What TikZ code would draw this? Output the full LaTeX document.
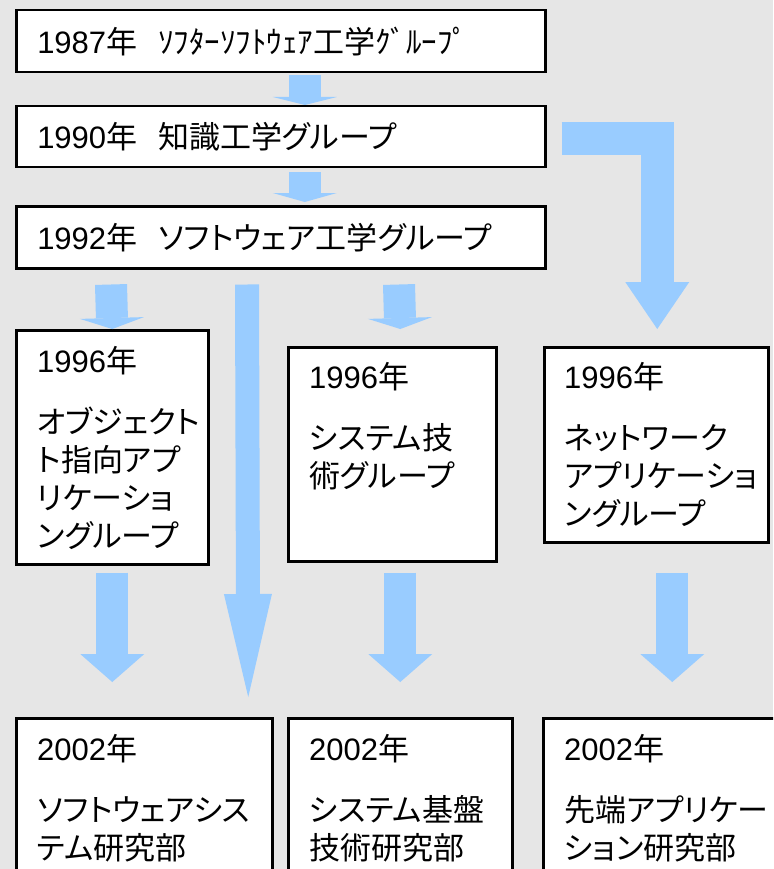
\documentclass[tikz,border=0pt]{standalone}
\usepackage{fontspec}
\setmainfont{Noto Sans CJK JP}[RawFeature=+palt]
\newfontfamily\fullfont{Noto Sans CJK JP}
\newfontfamily\latinfont{Liberation Sans}
\usepackage{tikz}
\usetikzlibrary{calc}
\usetikzlibrary{arrows.meta}
\definecolor{backdrop}{HTML}{E6E6E6}
\definecolor{arrowblue}{HTML}{99CCFF}
\newcommand{\bigtext}{\fontsize{31}{38}\selectfont}
\newcommand{\yr}[1]{{\latinfont #1}年}
\tikzset{
  x = 1pt, y = -1pt,
  box/.style = {draw, line width=2.5pt, fill=white, anchor=north west, inner sep=0pt},
  headbox/.style = {box, minimum width=529pt, minimum height=61pt,
    text width=487pt, inner xsep=21pt, align=left, font=\bigtext},
  boxtext/.style = {anchor=north west, inner sep=0pt, align=left, font=\bigtext},
  flow/.style = {draw=arrowblue, line width=32pt,
    -{Triangle[width=64pt,length=#1,line width=0pt]}}
}

\begin{document}
\begin{tikzpicture}
  %%% background
  \useasboundingbox (0,0) rectangle (773,869);
  \clip (0,0) rectangle (773,869);
  \fill[backdrop] (0,0) rectangle (773,869);
  %%% early groups
  \node[headbox, minimum height=62pt, font=\bigtext\fullfont] (grp87) at (15,9) {\yr{1987}\kern21pt ｿﾌﾀｰｿﾌﾄｳｪｱ工学ｸﾞﾙｰﾌﾟ};
  \node[headbox] (grp90) at (15,105) {\yr{1990}\kern21pt 知識工学グループ};
  \node[headbox, minimum height=62pt] (grp92) at (15,205) {\yr{1992}\kern21pt ソフトウェア工学グループ};
  %
  \draw[flow=8pt] ($(grp87.south)+(24,2)$) -- ($(grp90.north)+(24,0)$);
  \draw[flow=9pt] ($(grp90.south)+(24,4)$) -- ($(grp92.north)+(24,-3)$);
  %%% 1996 groups
  \node[box, minimum width=192pt, minimum height=234pt] (grp96a) at (15,329) {};
  \node[box, minimum width=208pt, minimum height=214pt] (grp96b) at (287,346) {};
  \node[box, minimum width=224pt, minimum height=195pt] (grp96c) at (543,346) {};
  \node[boxtext] (lab96a) at (37,346)
    {\yr{1996}\\[23pt]オブジェクト\\ト指向アプ\\リケーショ\\ングループ};
  \node[boxtext] (lab96b) at (309,362)
    {\yr{1996}\\[23pt]システム技\\術グループ};
  \node[boxtext] (lab96c) at (564,362)
    {\yr{1996}\\[23pt]ネットワーク\\アプリケーショ\\ングループ};
  %
  \draw[flow=11pt] ($(grp92.south west)+(96,15)$) -- (grp96a.north);
  \draw[flow=11pt] ($(grp92.south west)+(384,15)$) -- ($(grp96b.north)+(8,-17)$);
  \draw[flow=47pt, line width=33pt] ($(grp90.east)+(15,2)$) -| ($(grp96c.north)+(1,-17)$);
  %%% 2002 departments
  \node[box, minimum width=256pt, minimum height=200pt] (dep02a) at (15,717) {};
  \node[box, minimum width=224pt, minimum height=200pt] (dep02b) at (287,717) {};
  \node[box, minimum width=260pt, minimum height=200pt] (dep02c) at (542,717) {};
  \node[boxtext] (lab02a) at (37,734)
    {\yr{2002}\\[23pt]ソフトウェアシス\\テム研究部};
  \node[boxtext] (lab02b) at (309,734)
    {\yr{2002}\\[23pt]システム基盤\\技術研究部};
  \node[boxtext] (lab02c) at (564,734)
    {\yr{2002}\\[23pt]先端アプリケー\\ション研究部};
  %
  \draw[draw=arrowblue, line width=24pt, -{Triangle[width=48pt,length=103pt,line width=0pt]}]
    ($(grp92.south west)+(232,15)$) -- ($(dep02a.north)+(104,-20)$);
  \draw[flow=28pt] ($(grp96a.south)+(0,7)$) -- ($(dep02a.north)+(-32,-35)$);
  \draw[flow=28pt] ($(grp96b.south)+(8,10)$) -- ($(dep02b.north)+(0,-35)$);
  \draw[flow=28pt] ($(grp96c.south)+(16,29)$) -- ($(dep02c.north)+(-1,-35)$);
\end{tikzpicture}
\end{document}
